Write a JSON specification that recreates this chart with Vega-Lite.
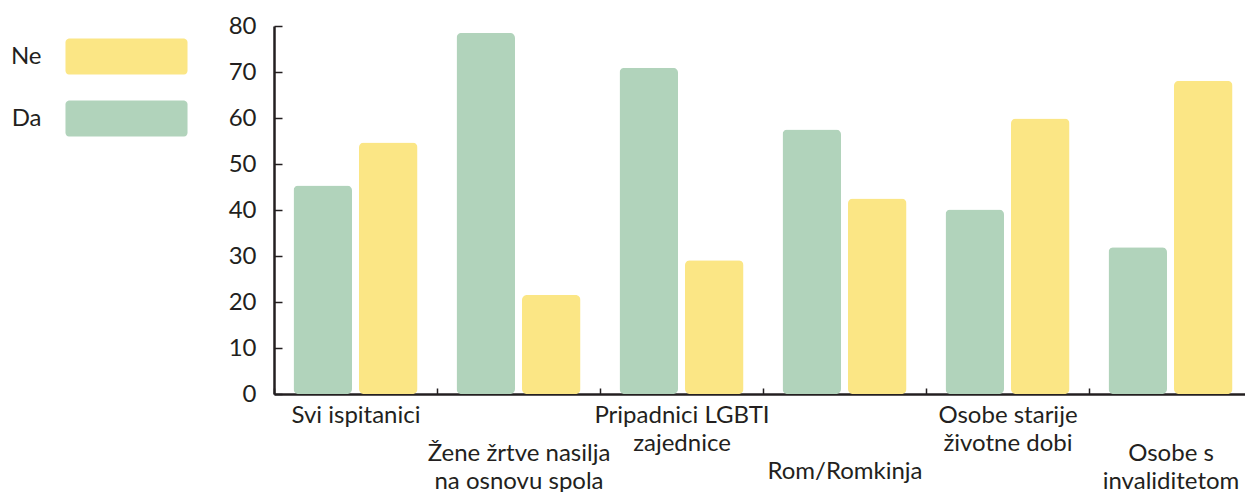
{
  "$schema": "https://vega.github.io/schema/vega-lite/v6.json",
  "autosize": {"type": "none"},
  "padding": {"left": 274, "top": 26, "right": 0, "bottom": 98},
  "width": 978,
  "height": 368,
  "background": "white",
  "config": {
    "view": {"stroke": null},
    "font": "Lato",
    "axis": {"labelFont": "Lato", "labelColor": "#231f20", "domainColor": "#231f20", "tickColor": "#231f20", "domain": true}
  },
  "data": {
    "values": [
      {"grupa": "Svi ispitanici", "odgovor": "Da", "postotak": 45.3},
      {"grupa": "Svi ispitanici", "odgovor": "Ne", "postotak": 54.7},
      {"grupa": "Žene žrtve nasilja na osnovu spola", "odgovor": "Da", "postotak": 78.5},
      {"grupa": "Žene žrtve nasilja na osnovu spola", "odgovor": "Ne", "postotak": 21.5},
      {"grupa": "Pripadnici LGBTI zajednice", "odgovor": "Da", "postotak": 70.9},
      {"grupa": "Pripadnici LGBTI zajednice", "odgovor": "Ne", "postotak": 29.1},
      {"grupa": "Rom/Romkinja", "odgovor": "Da", "postotak": 57.5},
      {"grupa": "Rom/Romkinja", "odgovor": "Ne", "postotak": 42.5},
      {"grupa": "Osobe starije životne dobi", "odgovor": "Da", "postotak": 40.1},
      {"grupa": "Osobe starije životne dobi", "odgovor": "Ne", "postotak": 59.9},
      {"grupa": "Osobe s invaliditetom", "odgovor": "Da", "postotak": 31.9},
      {"grupa": "Osobe s invaliditetom", "odgovor": "Ne", "postotak": 68.1}
    ]
  },
  "mark": {"type": "bar", "cornerRadius": 5},
  "encoding": {
    "x": {
      "field": "grupa",
      "type": "nominal",
      "sort": null,
      "scale": {"paddingInner": 0, "paddingOuter": 0},
      "axis": {
        "title": null,
        "labelAngle": 0,
        "labelFontSize": 24,
        "labelLineHeight": 28,
        "labelLimit": 0,
        "labelColor": "#231f20",
        "domain": true,
        "domainWidth": 2.5,
        "tickWidth": 1.5,
        "tickSize": -6,
        "tickBand": "extent",
        "labelPadding": {"expr": "datum.value == 'Rom/Romkinja' ? 71 : (datum.value == 'Žene žrtve nasilja na osnovu spola' || datum.value == 'Osobe s invaliditetom') ? 53 : 15"},
        "labelExpr": "datum.value == 'Žene žrtve nasilja na osnovu spola' ? ['Žene žrtve nasilja', 'na osnovu spola'] : datum.value == 'Pripadnici LGBTI zajednice' ? ['Pripadnici LGBTI', 'zajednice'] : datum.value == 'Osobe starije životne dobi' ? ['Osobe starije', 'životne dobi'] : datum.value == 'Osobe s invaliditetom' ? ['Osobe s', 'invaliditetom'] : datum.label"
      }
    },
    "xOffset": {
      "field": "odgovor",
      "type": "nominal",
      "sort": ["Da", "Ne"],
      "scale": {"paddingInner": 0.107, "paddingOuter": 0.298}
    },
    "y": {
      "field": "postotak",
      "type": "quantitative",
      "scale": {"domain": [0, 80], "nice": false},
      "axis": {
        "title": null,
        "grid": false,
        "domain": true,
        "domainColor": "#231f20",
        "domainOpacity": 1,
        "values": [0, 10, 20, 30, 40, 50, 60, 70, 80],
        "labelFontSize": 24,
        "domainWidth": 2.5,
        "tickWidth": 1.5,
        "tickSize": -8,
        "labelPadding": 26
      }
    },
    "color": {
      "field": "odgovor",
      "type": "nominal",
      "scale": {"domain": ["Ne", "Da"], "range": ["#fbe685", "#b1d3bb"]},
      "legend": {
        "title": null,
        "orient": "none",
        "legendX": -165.5,
        "legendY": 12.5,
        "direction": "vertical",
        "padding": 0,
        "symbolType": "M-3.2,-1 H3.2 A0.22,0.22 0 0 1 3.39,-0.8 V0.8 A0.22,0.22 0 0 1 3.2,1 H-3.2 A0.22,0.22 0 0 1 -3.39,0.8 V-0.8 A0.22,0.22 0 0 1 -3.2,-1 Z",
        "symbolSize": 1296,
        "symbolStrokeWidth": 0,
        "symbolOpacity": 1,
        "labelAlign": "right",
        "labelOffset": -103,
        "labelFontSize": 24,
        "labelFont": "Lato",
        "labelColor": "#231f20",
        "rowPadding": 25
      }
    }
  }
}
